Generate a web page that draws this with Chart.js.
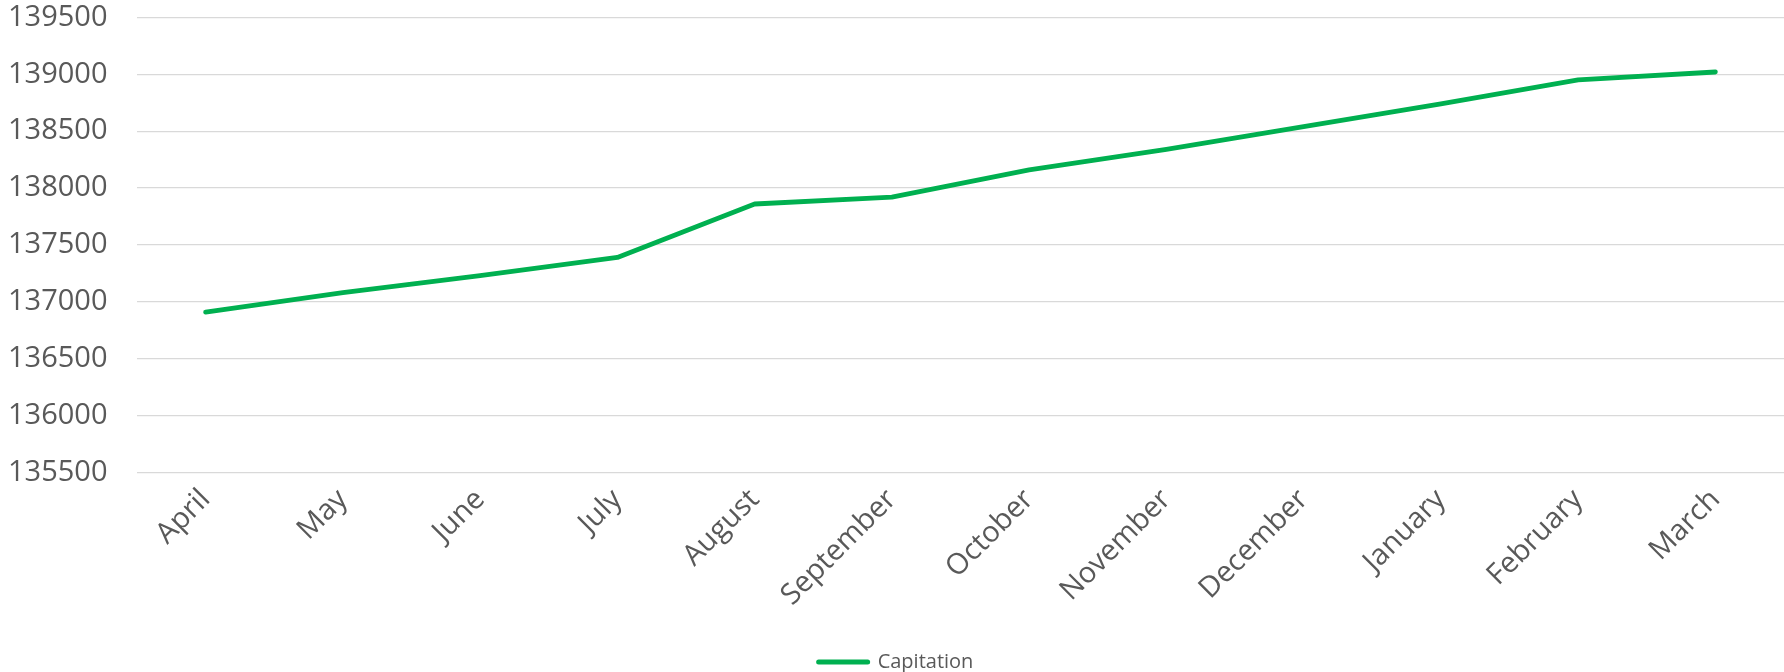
<!DOCTYPE html>
<html>
<head>
<meta charset="utf-8">
<script src="https://cdn.jsdelivr.net/npm/chart.js@4/dist/chart.umd.min.js"></script>
<style>
    html, body { margin: 0; padding: 0; background: #ffffff; }
</style>
</head>
<body>
<canvas id="capitationChart" width="1784" height="672"></canvas>
<script>
const months = ['April', 'May', 'June', 'July', 'August', 'September', 'October', 'November', 'December', 'January', 'February', 'March'];
const capitation = [136910, 137080, 137230, 137390, 137860, 137920, 138160, 138340, 138540, 138740, 138950, 139020];
const yMin = 135500;
const yMax = 139500;
const yStep = 500;

const labelColor = '#595959';
const lineColor = '#00B050';

const canvas = document.getElementById('capitationChart');

const capitationChart = new Chart(canvas, {
    type: 'line',
    data: {
        labels: months,
        datasets: [{
            label: 'Capitation',
            data: capitation,
            borderColor: lineColor,
            backgroundColor: lineColor,
            borderWidth: 4.8,
            borderCapStyle: 'round',
            borderJoinStyle: 'round',
            pointRadius: 0,
            tension: 0
        }]
    },
    options: {
        responsive: false,
        animation: false,
        devicePixelRatio: 1,
        layout: { padding: { top: 0, right: 0, bottom: -10, left: 8 } },
        plugins: {
            tooltip: { enabled: false },
            legend: {
                position: 'bottom',
                labels: {
                    usePointStyle: true,
                    pointStyleWidth: 49,
                    boxHeight: 5,
                    color: labelColor,
                    padding: 0,
                    font: { family: 'Open Sans', size: 20 },
                    generateLabels: chart => chart.data.datasets.map((ds, i) => ({
                        text: ds.label,
                        fillStyle: ds.borderColor,
                        strokeStyle: ds.borderColor,
                        lineWidth: 5,
                        lineCap: 'round',
                        pointStyle: 'line',
                        fontColor: labelColor,
                        hidden: false,
                        datasetIndex: i
                    }))
                }
            }
        },
        scales: {
            x: {
                offset: true,
                grid: { display: false, drawTicks: false },
                border: { display: false },
                ticks: {
                    color: labelColor,
                    font: { family: 'Open Sans', size: 29 },
                    maxRotation: 45,
                    minRotation: 45,
                    padding: 10,
                    autoSkip: false
                },
                afterFit: scale => { scale.height = 179.5; }
            },
            y: {
                min: yMin,
                max: yMax,
                grid: { color: '#D9D9D9', lineWidth: 1.3, drawTicks: false },
                border: { display: false },
                ticks: {
                    stepSize: yStep,
                    color: labelColor,
                    font: { family: 'Open Sans', size: 29 },
                    padding: 0,
                    crossAlign: 'far',
                    callback: v => String(v)
                },
                afterFit: scale => { scale.width = 129; }
            }
        }
    }
});
</script>
</body>
</html>
